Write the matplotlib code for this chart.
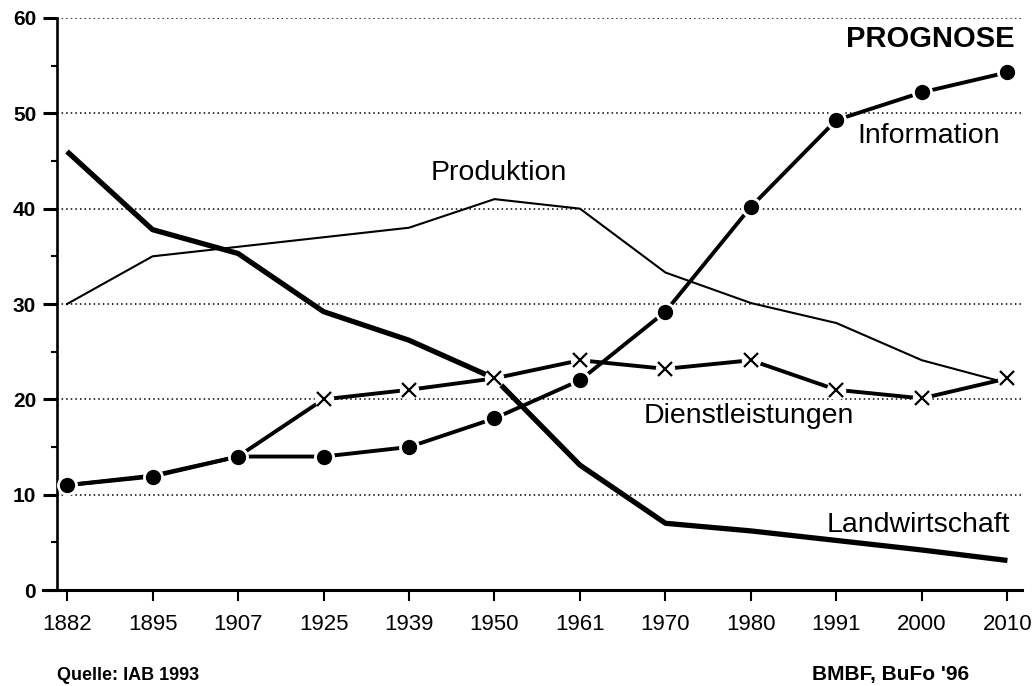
import matplotlib
matplotlib.use("Agg")
import matplotlib.pyplot as plt
from matplotlib.ticker import MultipleLocator

plt.rcParams['font.family'] = ['Liberation Sans', 'DejaVu Sans']

years = ['1882', '1895', '1907', '1925', '1939', '1950', '1961', '1970', '1980', '1991', '2000', '2010']
landwirtschaft = [46, 37.8, 35.3, 29.2, 26.2, 22.2, 13.1, 7.0, 6.2, 5.2, 4.2, 3.1]
produktion = [30, 35, 36, 37, 38, 41, 40, 33.3, 30.1, 28, 24.1, 21.7]
dienstleistungen = [11, 12, 14, 20, 21, 22.2, 24.1, 23.2, 24.1, 21, 20.1, 22.2]
information = [11, 11.9, 14, 14, 15, 18, 22, 29.2, 40.2, 49.3, 52.2, 54.3]

x = list(range(len(years)))

fig = plt.figure(figsize=(10.35, 6.86), dpi=100)
ax = fig.add_axes([0.0551, 0.1399, 0.9323, 0.8339])

ax.set_xlim(-0.117, 11.17)
ax.set_ylim(0, 60)

# grid
ax.yaxis.set_major_locator(MultipleLocator(10))
ax.yaxis.set_minor_locator(MultipleLocator(5))
ax.grid(axis='y', which='major', color='black', linestyle=(0, (1, 2)), linewidth=1.1)
ax.set_axisbelow(True)

# Produktion (thin line)
ax.plot(x, produktion, color='black', lw=1.5, zorder=3)
# Landwirtschaft (thick line)
ax.plot(x, landwirtschaft, color='black', lw=3.8, zorder=3, solid_capstyle='butt')
# Dienstleistungen (x markers with small gaps)
ax.plot(x, dienstleistungen, color='black', lw=2.8, zorder=4)
ax.plot(x[3:], dienstleistungen[3:], linestyle='none', marker='o', ms=13,
        mfc='white', mec='white', zorder=5)
ax.plot(x[3:], dienstleistungen[3:], linestyle='none', marker='x', ms=10,
        mew=1.6, color='black', zorder=6)
# Information (dots)
ax.plot(x, information, color='black', lw=2.8, zorder=7)
ax.plot(x, information, linestyle='none', marker='o', ms=14,
        mfc='white', mec='white', zorder=8)
ax.plot(x, information, linestyle='none', marker='o', ms=10,
        color='black', zorder=9)

# axes styling
for s in ('top', 'right'):
    ax.spines[s].set_visible(False)
ax.spines['left'].set_linewidth(1.9)
ax.spines['bottom'].set_linewidth(2.2)
ax.spines['bottom'].set_zorder(10)

ax.set_xticks(x)
ax.set_xticklabels(years)
ax.tick_params(axis='x', direction='out', length=8, width=1.5, pad=9, labelsize=16)
ax.tick_params(axis='y', which='major', direction='out', length=10, width=2.2, pad=5, labelsize=15)
ax.tick_params(axis='y', which='minor', direction='out', length=4, width=1.5)
for lbl in ax.get_yticklabels():
    lbl.set_fontweight('bold')

# extend baseline a bit to the left of the y axis
ax.plot([-0.015, 0.0], [0, 0], transform=ax.transAxes, color='black', lw=2.2, clip_on=False)

# labels
ax.text(11.08, 57.0, 'PROGNOSE', fontsize=21, fontweight='bold', ha='right', va='baseline')
ax.text(9.25, 46.9, 'Information', fontsize=20.5, ha='left', va='baseline')
ax.text(4.25, 43.0, 'Produktion', fontsize=20.5, ha='left', va='baseline')
ax.text(6.74, 17.5, 'Dienstleistungen', fontsize=20.5, ha='left', va='baseline')
ax.text(8.89, 6.1, 'Landwirtschaft', fontsize=20.5, ha='left', va='baseline')

fig.text(57 / 1035, 1 - 680 / 686, 'Quelle: IAB 1993', fontsize=13, fontweight='bold',
         ha='left', va='baseline')
fig.text(812 / 1035, 1 - 680 / 686, "BMBF, BuFo '96", fontsize=15, fontweight='bold',
         ha='left', va='baseline')

fig.savefig('out.png', dpi=100)
